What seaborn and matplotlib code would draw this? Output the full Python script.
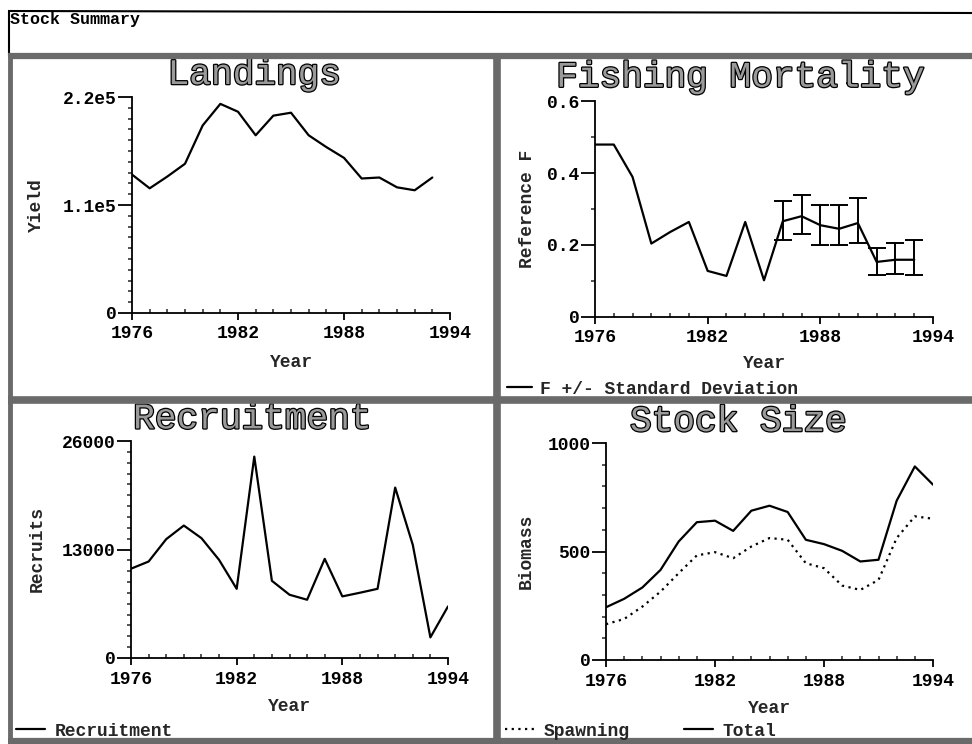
import numpy as np
import pandas as pd
import matplotlib
matplotlib.use("Agg")
import matplotlib.pyplot as plt
import matplotlib.patheffects as pe
from matplotlib.lines import Line2D
from matplotlib.ticker import MultipleLocator
import seaborn as sns

# ---------------- data ----------------
years_land = list(range(1976, 1994))
landings = [141000, 127000, 139000, 152000, 191000, 213000, 205000, 181000, 201000,
            204000, 181000, 169000, 158000, 137000, 138000, 128000, 125000, 138000]

years_f = list(range(1976, 1994))
fishing_f = [0.479, 0.479, 0.389, 0.204, 0.236, 0.264, 0.128, 0.114, 0.264, 0.102,
             0.266, 0.280, 0.255, 0.245, 0.261, 0.153, 0.159, 0.159]
years_sd = list(range(1986, 1994))
f_upper = [0.321, 0.338, 0.310, 0.310, 0.331, 0.193, 0.206, 0.213]
f_lower = [0.215, 0.231, 0.199, 0.199, 0.206, 0.116, 0.120, 0.116]

years_rec = list(range(1976, 1995))
recruits = [10700, 11560, 14240, 15870, 14360, 11760, 8290, 24130, 9250, 7580,
            6980, 11880, 7380, 7820, 8290, 20420, 13560, 2470, 6180]

years_ss = list(range(1976, 1995))
total_biomass = [243, 282, 334, 415, 546, 635, 642, 595, 688, 711, 682, 554, 534,
                 503, 454, 462, 734, 892, 808]
spawning_biomass = [165, 189, 246, 315, 400, 482, 497, 469, 523, 562, 554, 446, 423,
                    343, 323, 369, 562, 662, 651]

x_ticks = [1976, 1982, 1988, 1994]
land_ticks = [0, 110000, 220000]
land_ticklabels = ["0", "1.1e5", "2.2e5"]
f_ticks = [0, 0.2, 0.4, 0.6]
f_ticklabels = ["0", "0.2", "0.4", "0.6"]
rec_ticks = [0, 13000, 26000]
rec_ticklabels = ["0", "13000", "26000"]
ss_ticks = [0, 500, 1000]
ss_ticklabels = ["0", "500", "1000"]

# ---------------- style ----------------
sns.set_style("ticks")
MONO = ["Liberation Mono", "DejaVu Sans Mono"]
plt.rcParams["font.family"] = MONO
plt.rcParams["font.weight"] = "bold"

W, H = 972, 744
fig = plt.figure(figsize=(W / 100, H / 100), dpi=100)
fig.patch.set_facecolor("white")


def fx(px):
    return px / W


def fy(py):
    return 1 - py / H


def add_ax(x0, y0, x1, y1):
    return fig.add_axes([fx(x0), fy(y1), fx(x1) - fx(x0), (y1 - y0) / H])


TICKFONT = dict(family=MONO, weight="bold", size=13)
TITLE_FX = [pe.Stroke(linewidth=1.8, foreground="black"), pe.Normal()]


def style_ax(ax, ymax, yticks, yticklabels, yminor, title, tx, ty, ylabel, ylx, xly):
    ax.set_xlim(1976, 1994)
    ax.set_ylim(0, ymax)
    for s in ["top", "right"]:
        ax.spines[s].set_visible(False)
    for s in ["left", "bottom"]:
        ax.spines[s].set_linewidth(1.3)
        ax.spines[s].set_color("black")
    ax.set_xticks(x_ticks)
    ax.set_xticklabels([str(t) for t in x_ticks], fontdict=TICKFONT)
    ax.xaxis.set_minor_locator(MultipleLocator(1))
    ax.set_yticks(yticks)
    ax.set_yticklabels(yticklabels, fontdict=TICKFONT)
    ax.yaxis.set_minor_locator(MultipleLocator(yminor))
    ax.tick_params(axis="x", which="major", direction="out", length=5, width=1.3, pad=4, colors="black")
    ax.tick_params(axis="x", which="minor", direction="in", length=3, width=1.1)
    ax.tick_params(axis="y", which="major", direction="out", length=10, width=1.3, pad=1, colors="black")
    ax.tick_params(axis="y", which="minor", direction="out", length=3, width=1.1)
    ax.set_xlabel("Year", fontdict=TICKFONT)
    ax.xaxis.set_label_coords(0.5, xly)
    ax.xaxis.label.set_va("center")
    ax.set_ylabel(ylabel, fontdict=TICKFONT)
    ax.yaxis.set_label_coords(ylx, 0.5)
    ax.yaxis.label.set_va("center")
    t = ax.set_title(title, x=tx, y=ty, pad=0, fontsize=26, family=MONO,
                     weight="normal", color="#9a9a9a")
    t.set_path_effects(TITLE_FX)
    ax.set_facecolor("none")


LW = 1.6

# Landings
ax1 = add_ax(132, 97, 450, 313)
sns.lineplot(x=years_land, y=landings, ax=ax1, color="black", lw=LW)
style_ax(ax1, 220000, land_ticks, land_ticklabels, 11000, "Landings",
         0.384, 1.060, "Yield", -0.299, -0.231)

# Fishing mortality
ax2 = add_ax(595, 101, 933, 317)
sns.lineplot(x=years_f, y=fishing_f, ax=ax2, color="black", lw=LW,
             label="F +/- Standard Deviation", legend=False)
f_by_year = dict(zip(years_f, fishing_f))
mid = [f_by_year[y] for y in years_sd]
err = [np.array(mid) - np.array(f_lower), np.array(f_upper) - np.array(mid)]
ax2.errorbar(years_sd, mid, yerr=err, fmt="none", ecolor="black", elinewidth=1.4,
             capsize=6.5, capthick=1.4)
style_ax(ax2, 0.6, f_ticks, f_ticklabels, 0.1, "Fishing Mortality",
         0.429, 1.066, "Reference F", -0.201, -0.214)

# Recruitment
ax3 = add_ax(131, 441, 448, 658)
sns.lineplot(x=years_rec, y=recruits, ax=ax3, color="black", lw=LW)
style_ax(ax3, 26000, rec_ticks, rec_ticklabels, 1300, "Recruitment",
         0.382, 1.058, "Recruits", -0.297, -0.224)

# Stock size
ax4 = add_ax(606, 443, 933, 660)
sns.lineplot(x=years_ss, y=spawning_biomass, ax=ax4, color="black", lw=LW,
             linestyle=(0, (1, 2)))
sns.lineplot(x=years_ss, y=total_biomass, ax=ax4, color="black", lw=LW)
style_ax(ax4, 1000, ss_ticks, ss_ticklabels, 100, "Stock Size",
         0.404, 1.055, "Biomass", -0.245, -0.222)

# ---------------- legends ----------------
LEGFONT = dict(family=MONO, weight="bold", size=13)
fig.legend([Line2D([], [], color="black", lw=LW)], ["F +/- Standard Deviation"],
           loc="center left", bbox_to_anchor=(fx(507), fy(389)), frameon=False,
           prop=LEGFONT, handlelength=1.4, handletextpad=0.45, borderpad=0,
           borderaxespad=0)
fig.legend([Line2D([], [], color="black", lw=LW)], ["Recruitment"],
           loc="center left", bbox_to_anchor=(fx(16), fy(731)), frameon=False,
           prop=LEGFONT, handlelength=1.6, handletextpad=0.55, borderpad=0,
           borderaxespad=0)
fig.legend([Line2D([], [], color="black", lw=LW, linestyle=(0, (1, 2))),
            Line2D([], [], color="black", lw=LW)], ["Spawning", "Total"],
           loc="center left", bbox_to_anchor=(fx(505), fy(731)), frameon=False,
           prop=LEGFONT, handlelength=1.6, handletextpad=0.55, borderpad=0,
           borderaxespad=0, ncol=2, columnspacing=3.0)

# ---------------- header and frames ----------------
fig.text(fx(10), fy(12), "Stock Summary", ha="left", va="top", family=MONO,
         weight="bold", size=12, color="black")


def fline(xs, ys, color, lw):
    fig.add_artist(Line2D([fx(x) for x in xs], [fy(y) for y in ys],
                          transform=fig.transFigure, color=color, lw=lw,
                          solid_capstyle="butt"))


fline([8, 972], [11, 13], "black", 1.5)
fline([9, 9], [11, 56], "black", 1.5)
GRAY = "#6a6a6a"
fline([8, 972], [56, 56], GRAY, 4.5)
fline([8, 972], [400, 400], GRAY, 5.5)
fline([8, 972], [741, 741], GRAY, 4.5)
fline([10, 10], [54, 744], GRAY, 3.5)
fline([497, 497], [54, 744], GRAY, 5.5)

fig.savefig("out.png", dpi=100, facecolor="white")
